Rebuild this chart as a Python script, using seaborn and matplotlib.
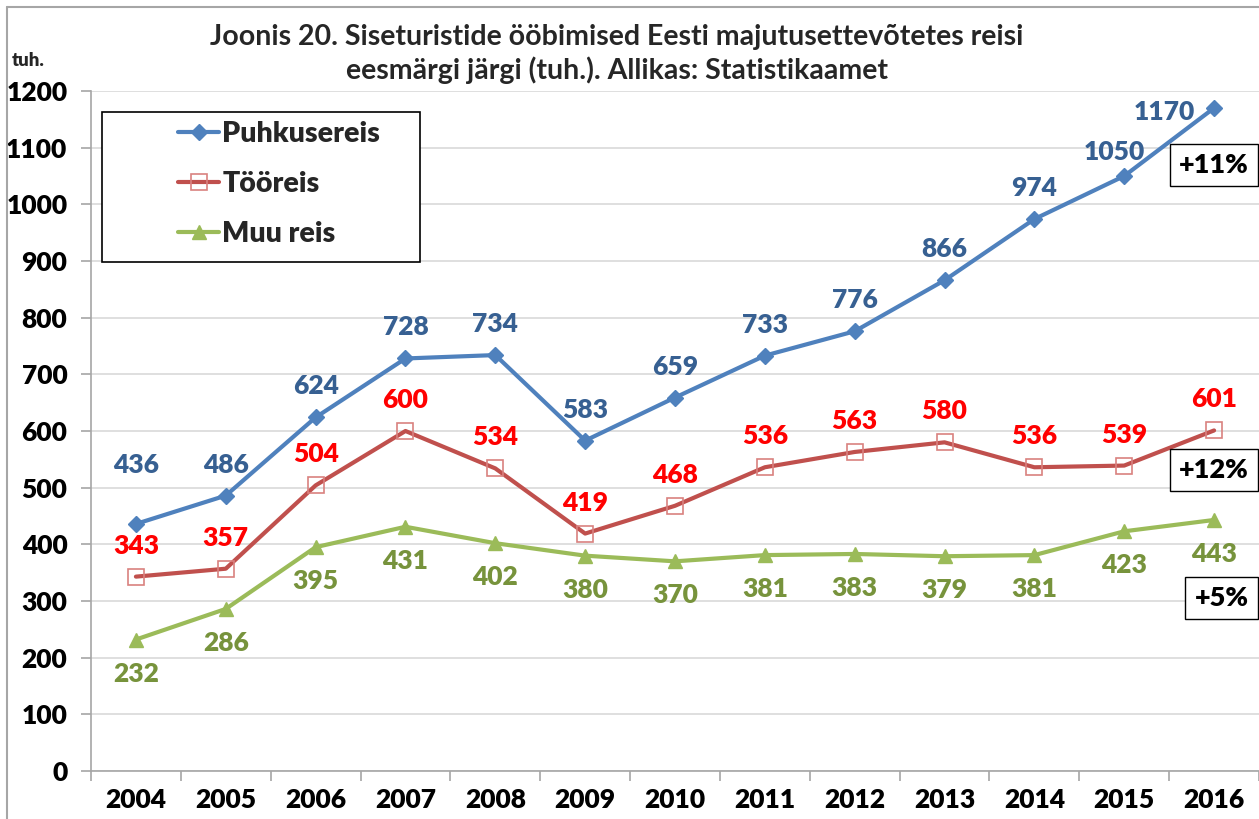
import matplotlib
matplotlib.use('Agg')
import matplotlib.pyplot as plt
from matplotlib.patches import Rectangle
from matplotlib.lines import Line2D
import seaborn as sns
import pandas as pd

# Andmed (tuh.)
aastad = [2004, 2005, 2006, 2007, 2008, 2009, 2010, 2011, 2012, 2013, 2014, 2015, 2016]
puhkusereis = [436, 486, 624, 728, 734, 583, 659, 733, 776, 866, 974, 1050, 1170]
tooreis = [343, 357, 504, 600, 534, 419, 468, 536, 563, 580, 536, 539, 601]
muu_reis = [232, 286, 395, 431, 402, 380, 370, 381, 383, 379, 381, 423, 443]
muutused = ['+11%', '+12%', '+5%']

df = pd.DataFrame({'aasta': aastad, 'Puhkusereis': puhkusereis,
                   'Tööreis': tooreis, 'Muu reis': muu_reis})

sns.set_theme(style='white')
plt.rcParams['font.family'] = ['Lato', 'DejaVu Sans']
RASKUS = 'heavy'
plt.rcParams['font.weight'] = RASKUS

fig = plt.figure(figsize=(12.59, 8.19), dpi=100)
ax = fig.add_axes([91 / 1259, 1 - 771 / 819, 1168 / 1259, 680 / 819])

sinine, punane, roheline = '#4F81BD', '#C0504D', '#9BBB59'

sns.lineplot(data=df, x='aasta', y='Puhkusereis', ax=ax, color=sinine, lw=3,
             marker='D', ms=8, mec=sinine, mew=1, label='Puhkusereis', zorder=5)
sns.lineplot(data=df, x='aasta', y='Tööreis', ax=ax, color=punane, lw=3,
             marker='s', ms=12, mfc='none', mec='#D9817F', mew=1.2, label='Tööreis', zorder=5)
sns.lineplot(data=df, x='aasta', y='Muu reis', ax=ax, color=roheline, lw=3,
             marker='^', ms=10, mec=roheline, mew=1, label='Muu reis', zorder=5)

# Andmesildid (nihked pikslites, 1 px = 0.72 pt)
def sildid(vaartused, varv, dy, erand=None):
    erand = erand or {}
    for i, (x, v) in enumerate(zip(aastad, vaartused)):
        ox, oy = erand.get(i, (0, dy))
        ax.annotate(str(v), (x, v), xytext=(ox * 0.72, oy * 0.72), textcoords='offset points',
                    ha='center', va='center', fontsize=19, fontweight=RASKUS, color=varv, zorder=6)

sildid(puhkusereis, '#376092', 31, {0: (0, 59), 11: (-10, 24), 12: (-50, -4)})
sildid(tooreis, '#FF0000', 31)
sildid(muu_reis, '#77933C', -34)

# Teljed
ax.set_xlim(2003.5, 2016.5)
ax.set_ylim(0, 1200)
ax.set_yticks(range(0, 1201, 100))
ax.set_xticks(aastad)
ax.set_xticks([a - 0.5 for a in aastad] + [2016.5], minor=True)
ax.set_xlabel('')
ax.set_ylabel('')
ax.yaxis.grid(True, color='#D9D9D9', lw=1.2)
ax.xaxis.grid(False)
for s in ['top', 'right']:
    ax.spines[s].set_visible(False)
for s in ['left', 'bottom']:
    ax.spines[s].set_color('#A6A6A6')
    ax.spines[s].set_linewidth(1.2)
ax.tick_params(axis='y', which='major', length=7, width=1.2, color='#A6A6A6',
               left=True, pad=10, labelsize=19)
ax.tick_params(axis='x', which='major', length=0, pad=12, labelsize=19)
ax.tick_params(axis='x', which='minor', length=7, width=1.2, color='#A6A6A6', bottom=True)
for t in ax.get_xticklabels() + ax.get_yticklabels():
    t.set_fontweight(RASKUS)
    t.set_color('black')

# Legend
ax.add_patch(Rectangle((11 / 1168, (771 - 262) / 680), 318 / 1168, 150 / 680,
                       transform=ax.transAxes, facecolor='white', edgecolor='black',
                       lw=1.2, zorder=3))
leg = ax.legend(loc='upper left', bbox_to_anchor=((178 - 91) / 1168, (771 - 121) / 680),
                frameon=False, borderpad=0, borderaxespad=0, handlelength=1.45,
                handletextpad=0.1, labelspacing=0.85,
                prop={'size': 20.5, 'weight': RASKUS})
leg.set_zorder(4)

# Muutuse kastid
kastid = [(0.9615, (771 - 165) / 680), (0.9615, (771 - 470) / 680), (0.968, (771 - 598) / 680)]
for tekst, (kx, ky) in zip(muutused, kastid):
    ax.text(kx, ky, tekst, transform=ax.transAxes, ha='center', va='center',
            fontsize=19.5, fontweight=RASKUS, color='black', zorder=7,
            bbox=dict(boxstyle='square,pad=0.35', facecolor='white', edgecolor='black', lw=1))

# Pealkiri
pealkiri_font = ['Liberation Sans Narrow', 'Lato', 'DejaVu Sans']
fig.text(617 / 1259, 1 - 37 / 819, 'Joonis 20. Siseturistide ööbimised Eesti majutusettevõtetes reisi',
         ha='center', va='center', fontsize=20.5, fontweight='bold', family=pealkiri_font)
fig.text(617 / 1259, 1 - 70 / 819, 'eesmärgi järgi (tuh.). Allikas: Statistikaamet',
         ha='center', va='center', fontsize=20.5, fontweight='bold', family=pealkiri_font)
fig.text(12 / 1259, 1 - 60 / 819, 'tuh.', ha='left', va='center', fontsize=13.5, fontweight=RASKUS)

# Diagrammi raam
fig.add_artist(Line2D([7 / 1259, 7 / 1259], [0, 1 - 7 / 819], color='#A6A6A6', lw=1.5))
fig.add_artist(Line2D([7 / 1259, 1], [1 - 7 / 819, 1 - 7 / 819], color='#A6A6A6', lw=1.5))

fig.savefig('out.png', dpi=100)
